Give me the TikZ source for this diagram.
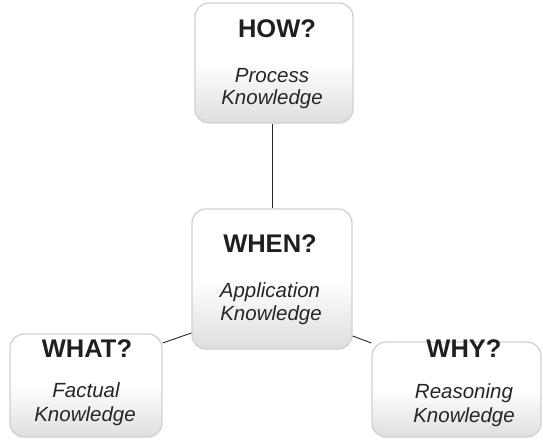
\documentclass[tikz,border=0pt]{standalone}
\usepackage{fontspec}
\setmainfont{Liberation Sans}
\usetikzlibrary{calc}
\tikzset{
  card/.style={rectangle, rounded corners=14pt, draw=black!18, line width=1.3pt,
    top color=white, bottom color=black!13, middle color=white, inner sep=0pt},
  qtext/.style={anchor=base, font=\fontsize{25.5}{28}\selectfont\bfseries, text=black!88, inner sep=0pt},
  ktext/.style={anchor=base, font=\fontsize{20.5}{23}\selectfont\itshape, text=black!85, inner sep=0pt},
  link/.style={draw=black!85, line width=0.9pt}
}
\begin{document}
\begin{tikzpicture}[x=1pt,y=-1pt]
\useasboundingbox (0,0) rectangle (543,439);
% boxes
\node[card, minimum width=158pt, minimum height=120pt] (how) at (274,63) {};
\node[card, minimum width=160pt, minimum height=140pt] (when) at (272,279) {};
\node[card, minimum width=152pt, minimum height=103pt] (what) at (86,385.5) {};
\node[card, minimum width=169pt, minimum height=95pt] (why) at (456.5,389.5) {};
% connectors
\draw[link] (when.north) -- (when.north |- how.south);
\draw[link] ([yshift=-54pt]when.west) -- ([yshift=42.5pt]what.east);
\draw[link] ([yshift=-57pt]when.east) -- ([yshift=46.5pt]why.west);
% texts
\node[qtext] (howq) at (277,37) {HOW?};
\node[ktext] (howk1) at (272,82) {Process};
\node[ktext] (howk2) at (272,104) {Knowledge};
\node[qtext] (whenq) at (270,252) {WHEN?};
\node[ktext] (whenk1) at (270,297) {Application};
\node[ktext] (whenk2) at (271,320) {Knowledge};
\node[qtext] (whatq) at (87,357) {WHAT?};
\node[ktext] (whatk1) at (86,397) {Factual};
\node[ktext] (whatk2) at (85,421) {Knowledge};
\node[qtext] (whyq) at (464,357) {WHY?};
\node[ktext] (whyk1) at (464,398) {Reasoning};
\node[ktext] (whyk2) at (464,422) {Knowledge};
\end{tikzpicture}
\end{document}
